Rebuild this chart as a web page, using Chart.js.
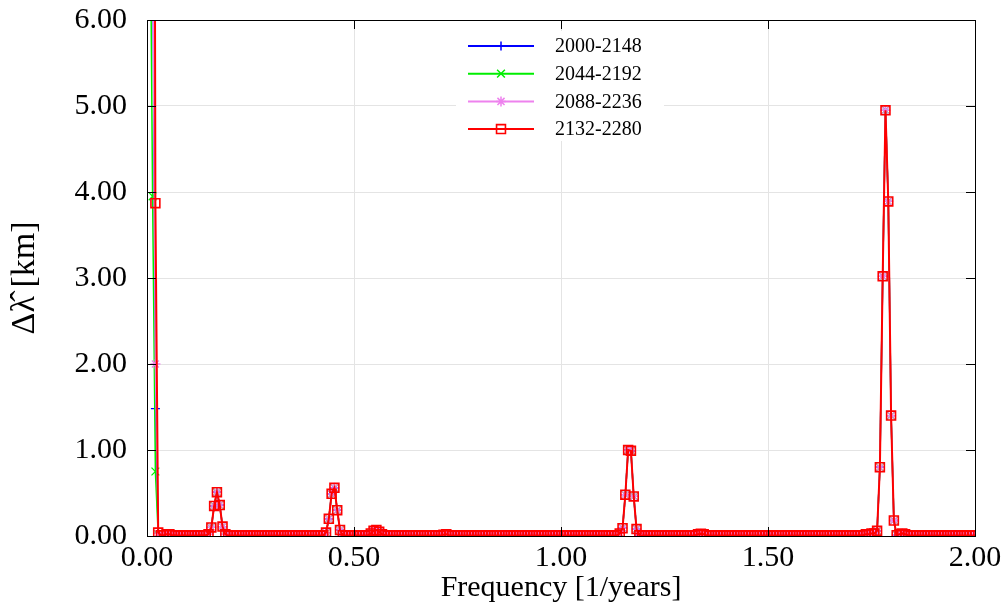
<!DOCTYPE html>
<html>
<head>
<meta charset="utf-8">
<script src="https://cdn.jsdelivr.net/npm/chart.js@4/dist/chart.umd.min.js"></script>
<style>
  html, body { margin: 0; padding: 0; background: #fff; }
  #spectrum { display: block; }
</style>
</head>
<body>
<canvas id="spectrum" width="1007" height="612"></canvas>
<script>
// -----------------------------
// Data: amplitude spectra of four 148-year windows
// -----------------------------
const seriesLabels = ["2000-2148", "2044-2192", "2088-2236", "2132-2280"];
const seriesColors = ["#0000ff", "#00ee00", "#ee82ee", "#ff0000"];
const seriesMarkers = ["cross", "crossRot", "star", "rect"];

// frequency bins k/148, k = 1..296  (up to 2.0 1/years)
const binCount = 296;
const binWidth = 1 / 148;
const freqs = Array.from({ length: binCount }, (_, i) => (i + 1) * binWidth);

// 2132-2280 window
const redVals = [
  // k 1-20
  40, 20, 3.87, 0.04, 0.01, 0.01, 0.02, 0.02, 0.01, 0.01, 0.005, 0.005, 0.01, 0.005, 0.005, 0.005, 0.005, 0.005, 0.01, 0.01,
  // k 21-40
  0.01, 0.02, 0.10, 0.35, 0.51, 0.36, 0.11, 0.02, 0.005, 0.005, 0.005, 0.005, 0.005, 0.005, 0.005, 0.005, 0.005, 0.005, 0.005, 0.005,
  // k 41-60
  0.005, 0.005, 0.005, 0.005, 0.005, 0.005, 0.005, 0.005, 0.005, 0.005, 0.005, 0.005, 0.005, 0.005, 0.005, 0.005, 0.005, 0.005, 0.005, 0.005,
  // k 61-80
  0.005, 0.005, 0.01, 0.04, 0.20, 0.49, 0.56, 0.30, 0.07, 0.01, 0.005, 0.005, 0.005, 0.005, 0.005, 0.005, 0.005, 0.005, 0.01, 0.03,
  // k 81-100
  0.06, 0.07, 0.05, 0.02, 0.01, 0.005, 0.005, 0.005, 0.005, 0.005, 0.005, 0.005, 0.005, 0.005, 0.005, 0.005, 0.005, 0.005, 0.005, 0.005,
  // k 101-120
  0.005, 0.005, 0.005, 0.005, 0.005, 0.015, 0.02, 0.01, 0.005, 0.005, 0.005, 0.005, 0.005, 0.005, 0.005, 0.005, 0.005, 0.005, 0.005, 0.005,
  // k 121-140
  0.005, 0.005, 0.005, 0.005, 0.005, 0.005, 0.005, 0.005, 0.005, 0.005, 0.005, 0.005, 0.005, 0.005, 0.005, 0.005, 0.005, 0.005, 0.005, 0.005,
  // k 141-160
  0.005, 0.005, 0.005, 0.005, 0.005, 0.005, 0.005, 0.005, 0.005, 0.005, 0.005, 0.005, 0.005, 0.005, 0.005, 0.005, 0.005, 0.005, 0.005, 0.005,
  // k 161-180
  0.005, 0.005, 0.005, 0.005, 0.005, 0.005, 0.005, 0.01, 0.03, 0.09, 0.48, 1.00, 0.99, 0.46, 0.08, 0.01, 0.005, 0.005, 0.005, 0.005,
  // k 181-200
  0.005, 0.005, 0.005, 0.005, 0.005, 0.005, 0.005, 0.005, 0.005, 0.005, 0.005, 0.005, 0.005, 0.005, 0.005, 0.01, 0.02, 0.025, 0.02, 0.01,
  // k 201-220
  0.005, 0.005, 0.005, 0.005, 0.005, 0.005, 0.005, 0.005, 0.005, 0.005, 0.005, 0.005, 0.005, 0.005, 0.005, 0.005, 0.005, 0.005, 0.005, 0.005,
  // k 221-240
  0.005, 0.005, 0.005, 0.005, 0.005, 0.005, 0.005, 0.005, 0.005, 0.005, 0.005, 0.005, 0.005, 0.005, 0.005, 0.005, 0.005, 0.005, 0.005, 0.005,
  // k 241-260
  0.005, 0.005, 0.005, 0.005, 0.005, 0.005, 0.005, 0.005, 0.005, 0.005, 0.005, 0.005, 0.005, 0.005, 0.01, 0.01, 0.02, 0.02, 0.03, 0.03,
  // k 261-280
  0.06, 0.80, 3.02, 4.95, 3.89, 1.40, 0.18, 0.01, 0.02, 0.03, 0.02, 0.01, 0.005, 0.005, 0.005, 0.005, 0.005, 0.005, 0.005, 0.005,
  // k 281-296
  0.005, 0.005, 0.005, 0.005, 0.005, 0.005, 0.005, 0.005, 0.005, 0.005, 0.005, 0.005, 0.005, 0.005, 0.005, 0.005
];

// the earlier windows only differ in the first bins, the rest lies under the red curve
const blueVals = [30, 7.5, 1.48, 0.03, ...redVals.slice(4)];
const greenVals = [8, 3.95, 0.75, 0.02, ...redVals.slice(4)];
const pinkVals = [30, 7.3, 2.00, 0.03, ...redVals.slice(4)];
const seriesValues = [blueVals, greenVals, pinkVals, redVals];

const xTickValues = [0, 0.5, 1.0, 1.5, 2.0];
const yTickValues = [0, 1, 2, 3, 4, 5, 6];

const serif = "'Liberation Serif', 'DejaVu Serif', serif";

// -----------------------------
// Helper: draw a marker like the chart does
// -----------------------------
function drawMarker(ctx, style, color, x, y) {
  ctx.save();
  ctx.strokeStyle = color;
  ctx.fillStyle = "rgba(0,0,0,0)";
  ctx.lineWidth = style === "rect" ? 1.6 : 1.5;
  Chart.helpers.drawPoint(ctx, {
    pointStyle: style,
    radius: markerRadius(style),
    rotation: 0,
    borderWidth: ctx.lineWidth
  }, x, y);
  ctx.restore();
}

function markerRadius(style) {
  if (style === "rect") return 6.3;
  if (style === "crossRot") return 5.5;
  if (style === "star") return 5;
  return 4.5;
}

// -----------------------------
// Plugin: legend box inside the plot
// -----------------------------
const insideLegend = {
  id: "insideLegend",
  afterDatasetsDraw(chart) {
    const ctx = chart.ctx;
    ctx.save();
    ctx.fillStyle = "#fff";
    ctx.fillRect(456, 31, 208, 110);
    ctx.font = "20px " + serif;
    ctx.textBaseline = "middle";
    ctx.textAlign = "left";
    seriesLabels.forEach((label, i) => {
      const y = 46 + i * 27.7;
      ctx.strokeStyle = seriesColors[i];
      ctx.lineWidth = 2;
      ctx.beginPath();
      ctx.moveTo(468, y);
      ctx.lineTo(534, y);
      ctx.stroke();
      drawMarker(ctx, seriesMarkers[i], seriesColors[i], 501, y);
      ctx.fillStyle = "#000";
      ctx.fillText(label, 555, y + 1);
    });
    ctx.restore();
  }
};

// -----------------------------
// Plugin: black frame with inward ticks on all four sides
// -----------------------------
const frameTicks = {
  id: "frameTicks",
  afterDraw(chart) {
    const { ctx, chartArea: a, scales } = chart;
    const len = 9;
    ctx.save();
    ctx.strokeStyle = "#000";
    ctx.lineWidth = 1;
    ctx.beginPath();
    xTickValues.forEach(v => {
      const x = Math.round(scales.x.getPixelForValue(v)) + 0.5;
      ctx.moveTo(x, a.bottom); ctx.lineTo(x, a.bottom - len);
      ctx.moveTo(x, a.top); ctx.lineTo(x, a.top + len);
    });
    yTickValues.forEach(v => {
      const y = Math.round(scales.y.getPixelForValue(v)) + 0.5;
      ctx.moveTo(a.left, y); ctx.lineTo(a.left + len, y);
      ctx.moveTo(a.right, y); ctx.lineTo(a.right - len, y);
    });
    ctx.stroke();
    ctx.strokeRect(Math.round(a.left) + 0.5, Math.round(a.top) + 0.5,
      Math.round(a.right - a.left), Math.round(a.bottom - a.top));
    ctx.restore();
  }
};

// -----------------------------
// Render
// -----------------------------
function renderSpectrum() {
  const datasets = seriesLabels.map((label, i) => ({
    label,
    data: freqs.map((f, k) => ({ x: f, y: seriesValues[i][k] })),
    borderColor: seriesColors[i],
    borderWidth: i === 3 ? 2 : 1.5,
    pointStyle: seriesMarkers[i],
    pointRadius: markerRadius(seriesMarkers[i]),
    pointBorderWidth: i === 3 ? 1.6 : 1.3,
    pointBorderColor: seriesColors[i],
    pointBackgroundColor: "rgba(0,0,0,0)",
    tension: 0,
    order: 3 - i
  }));

  new Chart(document.getElementById("spectrum"), {
    type: "line",
    data: { datasets },
    options: {
      responsive: false,
      animation: false,
      events: [],
      layout: { padding: { top: 20, right: 32, left: 0, bottom: 0 } },
      plugins: { legend: { display: false }, tooltip: { enabled: false } },
      scales: {
        x: {
          type: "linear",
          min: 0,
          max: 2,
          afterBuildTicks: s => { s.ticks = xTickValues.map(v => ({ value: v })); },
          afterFit: s => { s.height = 76; },
          border: { display: false },
          grid: { color: "#e4e4e4", drawTicks: false },
          ticks: {
            padding: 4,
            color: "#000",
            font: { family: serif, size: 30 },
            callback: v => v.toFixed(2)
          },
          title: {
            display: true,
            text: "Frequency [1/years]",
            color: "#000",
            font: { family: serif, size: 30 },
            padding: { top: 0, bottom: 6 }
          }
        },
        y: {
          type: "linear",
          min: 0,
          max: 6,
          afterBuildTicks: s => { s.ticks = yTickValues.map(v => ({ value: v })); },
          afterFit: s => { s.width = 147; s.paddingTop = 0; s.paddingBottom = 0; },
          border: { display: false },
          grid: { color: "#e4e4e4", drawTicks: false },
          ticks: {
            padding: 20,
            color: "#000",
            font: { family: serif, size: 30 },
            callback: v => v.toFixed(2)
          },
          title: {
            display: true,
            text: "\u0394\u03bb\u0302 [km]",
            color: "#000",
            font: { family: serif, size: 34 },
            padding: { top: 5, bottom: 0 }
          }
        }
      }
    },
    plugins: [insideLegend, frameTicks]
  });
}

renderSpectrum();
</script>
</body>
</html>
